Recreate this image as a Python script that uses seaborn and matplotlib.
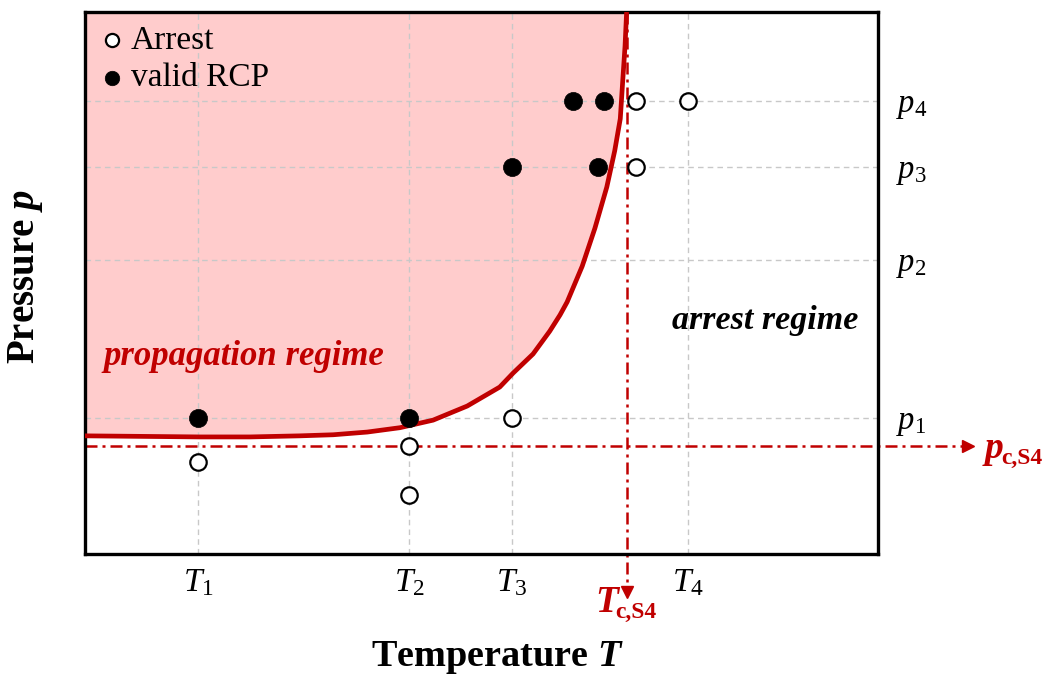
import matplotlib
matplotlib.use("Agg")
import matplotlib.pyplot as plt
import seaborn as sns

# Reference levels on the temperature and pressure axes (arbitrary units)
temp_levels = [14.3, 40.9, 53.8, 76.0]
temp_labels = ["$T_1$", "$T_2$", "$T_3$", "$T_4$"]
pressure_levels = [25.1, 54.2, 71.4, 83.6]
pressure_labels = ["$p_1$", "$p_2$", "$p_3$", "$p_4$"]

# Critical temperature / pressure of S4
T_crit = 68.3
p_crit = 19.9

# Test outcomes
rcp_T = [14.3, 40.9, 53.8, 64.7, 61.5, 65.4]
rcp_p = [25.1, 25.1, 71.4, 71.4, 83.6, 83.6]
arrest_T = [14.3, 40.9, 40.9, 53.8, 69.5, 69.5, 76.0]
arrest_p = [17.0, 19.9, 10.9, 25.1, 71.4, 83.6, 83.6]

# Boundary between the propagation and the arrest regime
boundary_T = [0.0, 14.5, 20.8, 27.1, 31.3, 35.6, 39.7, 43.9, 48.2, 52.3,
              54.0, 56.5, 58.6, 59.9, 60.8, 62.7, 64.3, 65.8, 66.8, 67.5,
              67.8, 68.1, 68.3]
boundary_p = [21.8, 21.6, 21.6, 21.8, 22.0, 22.5, 23.3, 24.7, 27.3, 30.8,
              33.4, 36.9, 41.1, 44.1, 46.5, 53.1, 60.1, 67.7, 74.4, 80.3,
              87.1, 93.7, 100.0]

sns.set_style("white")
plt.rcParams.update({
    "font.family": ["Liberation Serif", "DejaVu Serif"],
    "text.color": "black",
    "axes.labelcolor": "black",
    "xtick.color": "black",
    "ytick.color": "black",
    "mathtext.fontset": "custom",
    "mathtext.rm": "Liberation Serif",
    "mathtext.it": "Liberation Serif:italic",
    "mathtext.bf": "Liberation Serif:bold",
    "mathtext.bfit": "Liberation Serif:bold:italic",
})

red = "#C00000"
pink = "#FFCCCC"
W, H = 1049, 677

fig = plt.figure(figsize=(W / 100, H / 100), dpi=100)
ax = fig.add_axes([85 / W, 1 - 554 / H, (878 - 85) / W, (554 - 12) / H])
ax.set_xlim(0, 100)
ax.set_ylim(0, 100)

# Propagation regime (shaded) and its boundary
ax.fill_between(boundary_T, boundary_p, 100, color=pink, lw=0, zorder=0.2)
sns.lineplot(x=boundary_T, y=boundary_p, sort=False, estimator=None,
             color=red, lw=3.4, ax=ax, zorder=3,
             solid_joinstyle="round", solid_capstyle="butt")

# Critical pressure / temperature markers with arrows
dash = (4.8, 2.0, 1.2, 2.0)
ax.plot([0, 110.8], [p_crit, p_crit], color=red, lw=1.8, dashes=dash,
        clip_on=False, zorder=2)
ax.plot([111.4], [p_crit], marker=">", ms=9, color=red, mec=red,
        clip_on=False, zorder=2)
ax.plot([T_crit, T_crit], [100, -6.3], color=red, lw=1.8, dashes=dash,
        clip_on=False, zorder=2)
ax.plot([T_crit], [-7.0], marker="v", ms=9, color=red, mec=red,
        clip_on=False, zorder=2)

# Test points
sns.scatterplot(x=arrest_T, y=arrest_p, marker="o", s=140,
                facecolor="white", edgecolor="black", linewidth=1.6,
                label="Arrest", ax=ax, zorder=4)
sns.scatterplot(x=rcp_T, y=rcp_p, marker="o", s=170, color="black",
                edgecolor="black", linewidth=0.5,
                label="valid RCP", ax=ax, zorder=5)

ax.legend(loc="upper left", bbox_to_anchor=(0.022, 0.976), frameon=False,
          fontsize=24, handlelength=0.55, handletextpad=0.3,
          labelspacing=0.22, borderaxespad=0, borderpad=0, markerscale=0.8)

# Ticks, grid and frame
ax.set_xticks(temp_levels, temp_labels)
ax.set_yticks(pressure_levels, pressure_labels)
ax.yaxis.tick_right()
ax.tick_params(axis="x", length=0, labelsize=24, pad=10)
ax.tick_params(axis="y", length=0, labelsize=23.5, pad=13)
ax.set_axisbelow(True)
ax.grid(True, color="#C8C8C8", lw=1.0, linestyle=(0, (4, 3)))
for s in ax.spines.values():
    s.set_visible(True)
    s.set_color("black")
    s.set_linewidth(2.4)

# Axis titles
fig.text(497 / W, 1 - 657 / H, "Temperature $\\mathbfit{T}$", fontsize=27.5,
         fontweight="bold", ha="center", va="center")
fig.text(26 / W, 1 - 277 / H, "Pressure $\\mathbfit{p}$", fontsize=28,
         fontweight="bold", ha="center", va="center", rotation=90)

# Regime annotations
ax.text(2.3, 34.9, "propagation regime", color=red, fontsize=25,
        fontweight="bold", style="italic", ha="left", va="baseline")
ax.text(74.0, 41.5, "arrest regime", color="black", fontsize=24.5,
        fontweight="bold", style="italic", ha="left", va="baseline")

# Critical value labels: bold italic symbol with a bold subscript
ax.text(113.5, 17.7, "p", color=red, fontsize=27, fontweight="bold",
        style="italic", ha="left", va="baseline", clip_on=False)
ax.annotate("c,S4", xy=(113.5, 17.7), xytext=(12, -4),
            textcoords="offset points", color=red, fontsize=17,
            fontweight="bold", ha="left", va="baseline",
            annotation_clip=False)
ax.text(64.3, -10.7, "T", color=red, fontsize=27, fontweight="bold",
        style="italic", ha="left", va="baseline", clip_on=False)
ax.annotate("c,S4", xy=(64.3, -10.7), xytext=(14.5, -4),
            textcoords="offset points", color=red, fontsize=17,
            fontweight="bold", ha="left", va="baseline",
            annotation_clip=False)

fig.savefig("out.png", dpi=100)
